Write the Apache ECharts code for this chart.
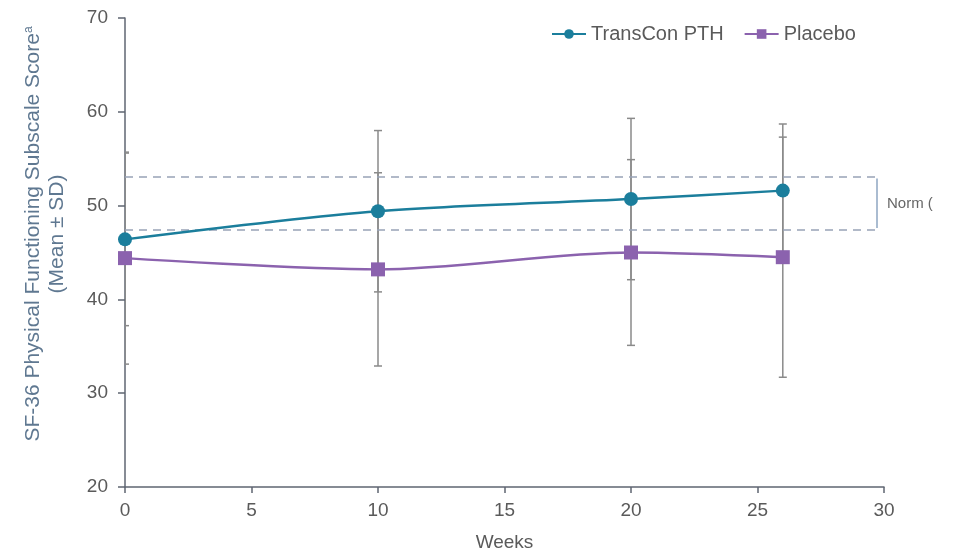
<!DOCTYPE html>
<html>
<head>
<meta charset="utf-8">
<script src="https://cdn.jsdelivr.net/npm/echarts@6/dist/echarts.min.js"></script>
<style>
  html, body { margin: 0; padding: 0; background: #fff; }
  #chart { width: 955px; height: 549px; }
</style>
</head>
<body>
<div id="chart"></div>
<script>
// Study visits (weeks)
const weeks = [0, 10, 20, 26];
// SF-36 physical functioning, mean and SD per arm
const transconMean = [46.4, 49.4, 50.7, 51.6];
const transconSD = [9.2, 8.6, 8.6, 7.1];
const placeboMean = [44.4, 43.2, 45.0, 44.5];
const placeboSD = [11.3, 10.3, 9.9, 12.8];
// Normative range band
const normRange = [47.4, 53.1];
const xTicks = [0, 5, 10, 15, 20, 25, 30];
const yTicks = [20, 30, 40, 50, 60, 70];

const FONT = '"Liberation Sans", Arial, sans-serif';
const TEAL = '#1b7e9c';
const PURPLE = '#8b62ae';
const AXIS = '#5f6672';
const LABEL = '#5a5a5a';

function errorData(means, sds) {
  return weeks.map((w, i) => [w, means[i] - sds[i], means[i] + sds[i]]);
}

function renderErrorBar(params, api) {
  const x = api.value(0);
  const lo = api.coord([x, api.value(1)]);
  const hi = api.coord([x, api.value(2)]);
  const cap = 4;
  const style = { stroke: '#8a8a8a', lineWidth: 1.5 };
  return {
    type: 'group',
    children: [
      { type: 'line', shape: { x1: lo[0], y1: lo[1], x2: hi[0], y2: hi[1] }, style },
      { type: 'line', shape: { x1: lo[0] - cap, y1: lo[1], x2: lo[0] + cap, y2: lo[1] }, style },
      { type: 'line', shape: { x1: hi[0] - cap, y1: hi[1], x2: hi[0] + cap, y2: hi[1] }, style }
    ]
  };
}

const chart = echarts.init(document.getElementById('chart'), null, { renderer: 'canvas' });

chart.setOption({
  animation: false,
  backgroundColor: '#fff',
  textStyle: { fontFamily: FONT },
  grid: { left: 125, right: 71, top: 18, bottom: 62, containLabel: false, outerBoundsMode: 'none' },
  legend: {
    left: 546,
    top: 19,
    itemWidth: 34,
    itemHeight: 12,
    itemGap: 20,
    textStyle: { fontSize: 20, color: LABEL, fontFamily: FONT },
    data: ['TransCon PTH', 'Placebo']
  },
  xAxis: {
    type: 'value',
    min: xTicks[0],
    max: xTicks[xTicks.length - 1],
    interval: 5,
    name: 'Weeks',
    nameLocation: 'middle',
    nameGap: 46,
    nameTextStyle: { fontSize: 19, color: LABEL },
    axisLine: { show: true, lineStyle: { color: AXIS, width: 1.5 } },
    axisTick: { show: true, length: 6, lineStyle: { color: AXIS, width: 1.5 } },
    axisLabel: { fontSize: 19, color: LABEL, margin: 14 },
    splitLine: { show: false }
  },
  yAxis: {
    type: 'value',
    min: yTicks[0],
    max: yTicks[yTicks.length - 1],
    interval: 10,
    axisLine: { show: true, lineStyle: { color: AXIS, width: 1.5 } },
    axisTick: { show: true, length: 7, lineStyle: { color: AXIS, width: 1.5 } },
    axisLabel: { fontSize: 19, color: LABEL, margin: 17 },
    splitLine: { show: false }
  },
  graphic: [
    {
      type: 'text',
      x: 21,
      y: 234,
      rotation: Math.PI / 2,
      style: {
        text: '{t|SF-36 Physical Functioning Subscale Score}{s|a}\n{t|(Mean ± SD)}',
        align: 'center',
        verticalAlign: 'top',
        fill: '#5f7891',
        rich: {
          t: { fontSize: 21, fontFamily: FONT, fill: '#5f7891', lineHeight: 24, align: 'center' },
          s: { fontSize: 12, fontFamily: FONT, fill: '#5f7891', padding: [0, 0, 9, 0], lineHeight: 24 }
        }
      }
    },
    {
      type: 'text',
      left: 887,
      top: 196,
      style: { text: 'Norm (', fontSize: 15, fontFamily: FONT, fill: '#666' }
    }
  ],
  series: [
    {
      name: 'TransCon SD',
      type: 'custom',
      renderItem: renderErrorBar,
      data: errorData(transconMean, transconSD),
      encode: { x: 0, y: [1, 2] },
      clip: true,
      z: 1,
      silent: true
    },
    {
      name: 'Placebo SD',
      type: 'custom',
      renderItem: renderErrorBar,
      data: errorData(placeboMean, placeboSD),
      encode: { x: 0, y: [1, 2] },
      clip: true,
      z: 1,
      silent: true
    },
    {
      name: 'TransCon PTH',
      type: 'line',
      data: weeks.map((w, i) => [w, transconMean[i]]),
      smooth: 0.3,
      symbol: 'circle',
      symbolSize: 14,
      lineStyle: { color: TEAL, width: 2.4 },
      itemStyle: { color: TEAL },
      z: 5,
      markLine: {
        silent: true,
        symbol: 'none',
        label: { show: false },
        lineStyle: { color: '#98a2b6', type: [8, 6], width: 1.5 },
        data: [
          [{ coord: [0, normRange[0]] }, { coord: [29.7, normRange[0]] }],
          [{ coord: [0, normRange[1]] }, { coord: [29.7, normRange[1]] }],
          [
            { coord: [29.7, normRange[0] + 0.2], lineStyle: { type: 'solid', color: '#8ea6c2', width: 1.5 } },
            { coord: [29.7, normRange[1] - 0.2] }
          ]
        ]
      }
    },
    {
      name: 'Placebo',
      type: 'line',
      data: weeks.map((w, i) => [w, placeboMean[i]]),
      smooth: 0.3,
      symbol: 'rect',
      symbolSize: 14,
      lineStyle: { color: PURPLE, width: 2.4 },
      itemStyle: { color: PURPLE },
      z: 4
    }
  ]
});
</script>
</body>
</html>
